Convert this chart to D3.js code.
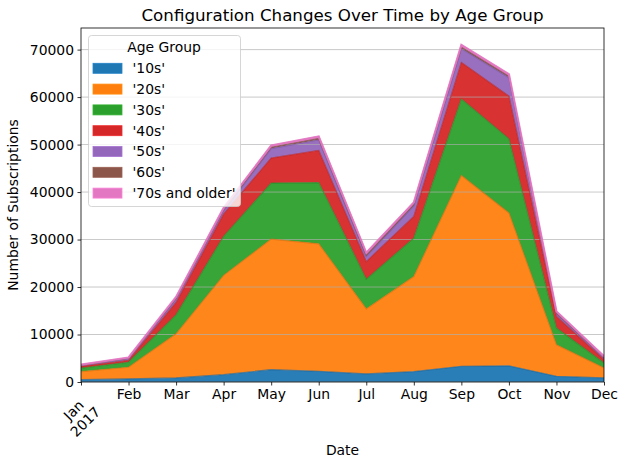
<!DOCTYPE html>
<html><head><meta charset="utf-8">
<script src="https://cdn.jsdelivr.net/npm/d3@7"></script>
<style>body{margin:0;background:#fff;} svg{display:block;font-family:"DejaVu Sans",sans-serif;}</style>
</head><body>
<svg id="c" width="620" height="463"></svg>
<script>
const months = ["Jan","Feb","Mar","Apr","May","Jun","Jul","Aug","Sep","Oct","Nov","Dec"];
const groups = ["'10s'","'20s'","'30s'","'40s'","'50s'","'60s'","'70s and older'"];
const colors = ["#1f77b4","#ff7f0e","#2ca02c","#d62728","#9467bd","#8c564b","#e377c2"];
const s10 = [500,650,850,1550,2600,2250,1700,2200,3300,3400,1200,850];
const s20 = [1700,2450,9300,20900,27500,26850,13700,20000,40200,32200,6650,2100];
const s30 = [700,1050,4000,8200,11800,12900,6250,8100,16100,15600,3500,1050];
const s40 = [400,400,2600,4700,5250,6750,3700,4550,7700,9000,2450,700];
const s50 = [200,350,700,700,2000,2250,1050,2250,2900,3900,550,400];
const s60 = [50,100,200,300,300,300,300,300,300,300,200,100];
const s70 = [100,150,250,300,350,400,500,400,500,400,300,200];
const yTicks = [0,10000,20000,30000,40000,50000,60000,70000];
const series = [s10,s20,s30,s40,s50,s60,s70];

const svg = d3.select("#c");
const L=81, R=604, T=28, B=382;
const rows = months.map((m,i)=>{const o={i}; groups.forEach((g,k)=>o[g]=series[k][i]); return o;});
const stack = d3.stack().keys(groups)(rows);
const maxTot = d3.max(stack[stack.length-1], d=>d[1]);
const x = d3.scaleLinear().domain([0,months.length-1]).range([L,R]);
const y = d3.scaleLinear().domain([0,maxTot*1.05]).range([B,T]);

svg.append("defs").append("clipPath").attr("id","clip").append("rect")
  .attr("x",L).attr("y",T).attr("width",R-L).attr("height",B-T);

const area = d3.area().x(d=>x(d.data.i)).y0(d=>y(d[0])).y1(d=>y(d[1]));
const line = d3.line().x(d=>x(d.data.i)).y(d=>y(d[1]));
const g = svg.append("g").attr("clip-path","url(#clip)");
g.selectAll("path.a").data(stack).join("path").attr("class","a")
  .attr("d",area).attr("fill",(d,k)=>colors[k]).attr("fill-opacity",0.95);
// grid
g.selectAll("line.grid").data(yTicks).join("line").attr("class","grid")
  .attr("x1",L).attr("x2",R).attr("y1",d=>y(d)).attr("y2",d=>y(d))
  .attr("stroke","#b0b0b0").attr("stroke-width",0.8).attr("opacity",0.85);
g.selectAll("path.l").data(stack).join("path").attr("class","l")
  .attr("d",line).attr("fill","none")
  .attr("stroke",(d,k)=>d3.color(colors[k]).darker(0.4))
  .attr("stroke-opacity",0.7).attr("stroke-width",1.2);
// thick top edge for last layer
g.append("path").datum(stack[stack.length-1]).attr("d",line).attr("fill","none")
  .attr("stroke",colors[6]).attr("stroke-width",2.2).attr("stroke-opacity",0.9);

// spines
svg.append("rect").attr("x",L).attr("y",T).attr("width",R-L).attr("height",B-T)
  .attr("fill","none").attr("stroke","#000").attr("stroke-width",0.8);

// y axis
const ya = svg.append("g").attr("transform",`translate(${L},0)`)
  .call(d3.axisLeft(y).tickValues(yTicks).tickFormat(d3.format("d")).tickSize(3.5).tickPadding(3.5));
ya.select(".domain").remove();
ya.selectAll("line").attr("stroke","#000").attr("stroke-width",0.8);
ya.selectAll("text").attr("font-size","13.9px").attr("fill","#000").attr("font-family","DejaVu Sans");

// x axis
const xa = svg.append("g").attr("transform",`translate(0,${B})`)
  .call(d3.axisBottom(x).tickValues(d3.range(months.length)).tickFormat(i=>i===0?"":months[i]).tickSize(3.5).tickPadding(3.5));
xa.select(".domain").remove();
xa.selectAll("line").attr("stroke","#000").attr("stroke-width",0.8);
xa.selectAll("text").attr("font-size","13.9px").attr("fill","#000").attr("font-family","DejaVu Sans");
const jan = svg.append("g").attr("transform",`translate(${x(0)-1.5},416) rotate(-45)`)
  .attr("font-size","13.9px").attr("text-anchor","middle");
jan.append("text").attr("y",-8.25).attr("dy","0.35em").text(months[0]);
jan.append("text").attr("y",8.25).attr("dy","0.35em").text("2017");

// labels
svg.append("text").attr("x",(L+R)/2).attr("y",21).attr("text-anchor","middle")
  .attr("font-size","16.7px").text("Configuration Changes Over Time by Age Group");
svg.append("text").attr("x",(L+R)/2).attr("y",455).attr("text-anchor","middle")
  .attr("font-size","13.9px").text("Date");
svg.append("text").attr("transform",`translate(18,${(T+B)/2}) rotate(-90)`).attr("text-anchor","middle")
  .attr("font-size","13.9px").text("Number of Subscriptions");

// legend
const lg = svg.append("g");
lg.append("rect").attr("x",88.5).attr("y",35.5).attr("width",152).attr("height",171).attr("rx",3)
  .attr("fill","#fff").attr("fill-opacity",0.8).attr("stroke","#cccccc").attr("stroke-width",0.8);
lg.append("text").attr("x",164).attr("y",52).attr("text-anchor","middle").attr("font-size","13.9px").text("Age Group");
groups.forEach((gname,k)=>{
  const cy = 68.3 + k*20.8;
  lg.append("rect").attr("x",93).attr("y",cy-5).attr("width",29).attr("height",10)
    .attr("fill",colors[k]).attr("stroke",d3.color(colors[k]).brighter(0.3)).attr("stroke-width",0.8);
  lg.append("text").attr("x",132.5).attr("y",cy).attr("dy","0.35em").attr("font-size","13.9px").text(gname);
});
</script>
</body></html>
